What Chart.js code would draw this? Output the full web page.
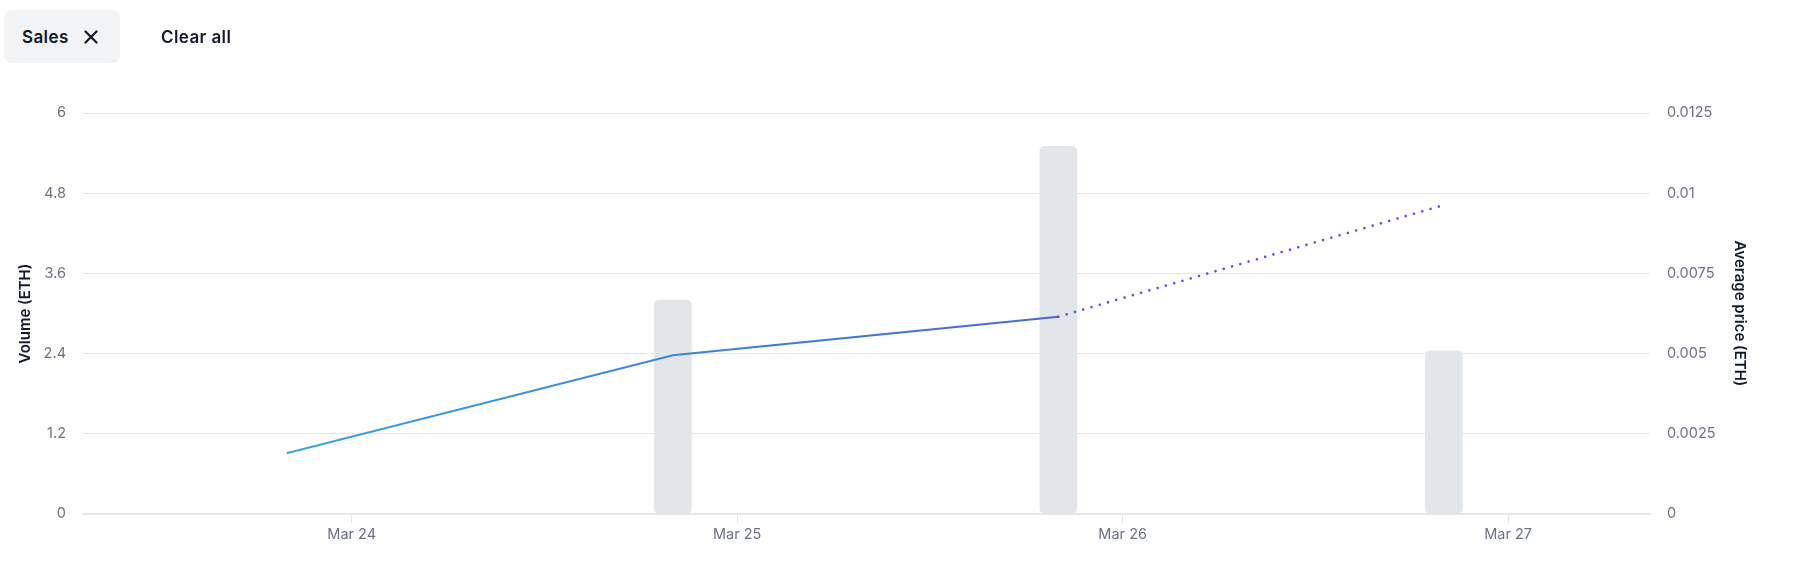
<!DOCTYPE html>
<html><head><meta charset="utf-8">
<script src="https://cdn.jsdelivr.net/npm/chart.js@4.4.1/dist/chart.umd.min.js"></script>
<style>
html,body{margin:0;padding:0;background:#fff;}
body{width:1808px;height:575px;position:relative;overflow:hidden;font-family:Inter,"Noto Sans",sans-serif;}
#wrap{position:absolute;left:0;top:0;width:1808px;height:575px;}
.chip{position:absolute;left:4px;top:10px;width:116px;height:53px;background:#f1f3f5;border-radius:8px;}
.lbl{position:absolute;font-weight:600;font-size:17px;letter-spacing:0.4px;color:#111827;line-height:20px;white-space:nowrap;}
</style></head>
<body>
<div id="wrap"><canvas id="c"></canvas></div>
<div class="chip"></div>
<div class="lbl" style="left:22px;top:27px">Sales</div>
<svg style="position:absolute;left:84px;top:30px" width="14" height="14" viewBox="0 0 14 14"><path d="M1.5 1.5L12.5 12.5M12.5 1.5L1.5 12.5" stroke="#111827" stroke-width="2.2" stroke-linecap="round"/></svg>
<div class="lbl" style="left:161px;top:27px">Clear all</div>
<script>
// Data (day of March, local time)
const pointDays = [23.8333, 24.8333, 25.8333, 26.8333];
const volumeEth = [null, 3.2, 5.5, 2.44];
const avgPriceEth = [0.0019, 0.00495, 0.00615, 0.00963];
const tickDays = [24, 25, 26, 27];
const tickLabels = ['Mar 24', 'Mar 25', 'Mar 26', 'Mar 27'];
const volumeTicks = [0, 1.2, 2.4, 3.6, 4.8, 6];
const priceTicks = [0, 0.0025, 0.005, 0.0075, 0.01, 0.0125];

const tickColor = '#6b7280';
const gridColor = '#e5e7eb';
const tickFont = {family: 'Inter', size: 14.5, weight: '400'};
const titleFont = {family: 'Inter', size: 15, weight: '600'};

function lineGradient(chart) {
  const {ctx, chartArea, scales} = chart;
  if (!chartArea || !scales.x) return '#3f72dc';
  const x0 = scales.x.getPixelForValue(pointDays[0]);
  const x1 = scales.x.getPixelForValue(pointDays[pointDays.length - 1]);
  const g = ctx.createLinearGradient(x0, 0, x1, 0);
  g.addColorStop(0, '#38a6dc');
  g.addColorStop(0.5, '#3f74dc');
  g.addColorStop(1, '#5a4fd2');
  return g;
}
const lastIdx = avgPriceEth.length - 1;

new Chart(document.getElementById('c'), {
  type: 'bar',
  data: {
    datasets: [
      {
        type: 'line',
        order: 0,
        yAxisID: 'yPrice',
        data: pointDays.map((d, i) => ({x: d, y: avgPriceEth[i]})),
        borderWidth: 2,
        borderCapStyle: 'round',
        pointRadius: 0,
        tension: 0,
        fill: false,
        borderColor: ctx => lineGradient(ctx.chart),
        segment: {
          borderDash: c => c.p1DataIndex === lastIdx ? [0.01, 8.6] : undefined,
          borderColor: c => c.p1DataIndex === lastIdx ? '#5a50d2' : undefined,
          borderWidth: c => c.p1DataIndex === lastIdx ? 2.6 : undefined
        }
      },
      {
        type: 'bar',
        order: 1,
        yAxisID: 'yVol',
        data: pointDays.map((d, i) => ({x: d, y: volumeEth[i]})),
        backgroundColor: '#e3e6e9',
        barThickness: 37,
        borderRadius: 5,
        borderSkipped: false
      }
    ]
  },
  options: {
    responsive: true,
    maintainAspectRatio: false,
    animation: false,
    layout: {padding: {top: 113, right: 48, bottom: 0, left: 0}},
    plugins: {legend: {display: false}, tooltip: {enabled: false}},
    scales: {
      x: {
        type: 'linear',
        min: 23.303,
        max: 27.368,
        offset: false,
        afterBuildTicks: s => { s.ticks = tickDays.map(v => ({value: v})); },
        afterFit: s => { s.height = 61; },
        ticks: {
          callback: (v, i) => tickLabels[i],
          color: tickColor, font: tickFont, padding: 3,
          maxRotation: 0, autoSkip: false
        },
        grid: {drawOnChartArea: false, drawTicks: true, tickLength: 9, color: gridColor, offset: false},
        border: {display: true, color: gridColor, width: 2}
      },
      yVol: {
        type: 'linear',
        position: 'left',
        min: 0, max: 6,
        afterBuildTicks: s => { s.ticks = volumeTicks.map(v => ({value: v})); },
        afterFit: s => { s.width = 83; },
        ticks: {color: tickColor, font: tickFont, padding: 17, callback: v => String(+v.toFixed(4))},
        grid: {color: gridColor, drawTicks: false},
        border: {display: false},
        title: {display: true, text: 'Volume (ETH)', color: '#111827', font: titleFont, padding: {top: 16, bottom: 0}}
      },
      yPrice: {
        type: 'linear',
        position: 'right',
        min: 0, max: 0.0125,
        afterBuildTicks: s => { s.ticks = priceTicks.map(v => ({value: v})); },
        afterFit: s => { s.width = 110; },
        ticks: {color: tickColor, font: tickFont, padding: 17, callback: v => String(+v.toFixed(5))},
        grid: {drawOnChartArea: false, drawTicks: false},
        border: {display: false},
        title: {display: true, text: 'Average price (ETH)', color: '#111827', font: titleFont, padding: {top: 11, bottom: 0}}
      }
    }
  }
});
</script>
</body></html>
